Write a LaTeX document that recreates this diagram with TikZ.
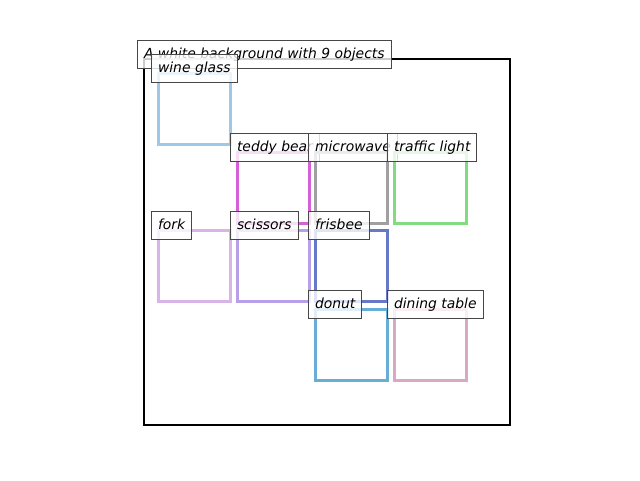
\documentclass[tikz,border=0pt]{standalone}
\usepackage{fontspec}
\setmainfont{DejaVu Sans}
\definecolor{wineC}{HTML}{9EC8E8}
\definecolor{teddyC}{HTML}{D660D6}
\definecolor{microC}{HTML}{A0A0A0}
\definecolor{trafficC}{HTML}{80DC80}
\definecolor{forkC}{HTML}{D8B4E8}
\definecolor{scissC}{HTML}{B8A0E8}
\definecolor{frisC}{HTML}{6878C8}
\definecolor{donutC}{HTML}{68ACD8}
\definecolor{diningC}{HTML}{D8A8C4}
\tikzset{
  objbox/.style={draw=#1, line width=3pt, minimum width=72pt, minimum height=71pt,
    inner sep=0pt, outer sep=0pt, anchor=north west},
  tag/.style={draw=black!72, line width=1pt, fill=white, fill opacity=0.8, text opacity=1,
    font=\fontsize{13.9}{16}\selectfont\itshape, text height=10.6pt, text depth=3.3pt,
    inner xsep=6.5pt, inner ysep=7pt, anchor=base west, xshift=-7pt, yshift=1pt}
}
\begin{document}
\begin{tikzpicture}[x=1pt,y=-1pt]
  \useasboundingbox (0,0) rectangle (640,480);
  \node[draw, line width=2pt, minimum size=366pt, inner sep=0pt, outer sep=0pt, anchor=north west] (frame) at (144,59) {};
  \node[tag] (title) at (frame.north west) {A white background with 9 objects};
  % objects, each box then its tag
  \node[objbox=wineC] (wine) at (158,73) {};
  \node[tag] (wine-t) at (wine.north west) {wine glass};
  \node[objbox=teddyC] (teddy) at (237,152) {};
  \node[tag] (teddy-t) at (teddy.north west) {teddy bear};
  \node[objbox=microC] (micro) at (315,152) {};
  \node[tag] (micro-t) at (micro.north west) {microwave};
  \node[objbox=trafficC] (traffic) at (394,152) {};
  \node[tag] (traffic-t) at (traffic.north west) {traffic light};
  \node[objbox=forkC] (fork) at (158,230) {};
  \node[tag] (fork-t) at (fork.north west) {fork};
  \node[objbox=scissC] (sciss) at (237,230) {};
  \node[tag] (sciss-t) at (sciss.north west) {scissors};
  \node[objbox=frisC] (fris) at (315,230) {};
  \node[tag] (fris-t) at (fris.north west) {frisbee};
  \node[objbox=donutC] (donut) at (315,309) {};
  \node[tag] (donut-t) at (donut.north west) {donut};
  \node[objbox=diningC] (dining) at (394,309) {};
  \node[tag] (dining-t) at (dining.north west) {dining table};
\end{tikzpicture}
\end{document}
